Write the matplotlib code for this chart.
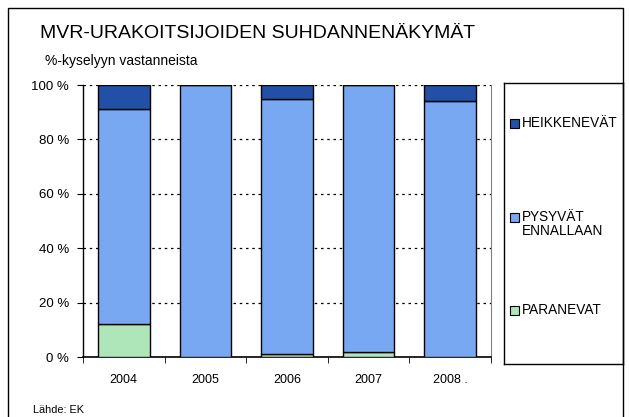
import matplotlib
matplotlib.use("Agg")
import matplotlib.pyplot as plt
from matplotlib.patches import Rectangle
import numpy as np

plt.rcParams['font.family'] = ['Liberation Sans', 'DejaVu Sans']

years = ["2004", "2005", "2006", "2007", "2008 ."]
paranevat = [12, 0, 1, 2, 0]
pysyvat = [79, 100, 94, 98, 94]
heikkenevat = [9, 0, 5, 0, 6]
series_labels = ["HEIKKENEVÄT", "PYSYVÄT\nENNALLAAN", "PARANEVAT"]
yticks = [0, 20, 40, 60, 80, 100]
ytick_labels = ["0 %", "20 %", "40 %", "60 %", "80 %", "100 %"]

c_dark = "#2150A6"
c_light = "#78A8F2"
c_green = "#AEE6BA"

W, H = 629, 417
fig = plt.figure(figsize=(W/100, H/100), dpi=100)

# outer frame
fig.add_artist(Rectangle((8/W, -0.01), (623-8)/W, (H-8)/H + 0.01, transform=fig.transFigure,
                         fill=False, edgecolor="black", linewidth=1))

ax = fig.add_axes([83/W, 1-357/H, (491-83)/W, (357-85)/H])
x = np.arange(len(years))
bw = 0.63
ax.bar(x, paranevat, bw, color=c_green, edgecolor="black", linewidth=1, zorder=3)
ax.bar(x, pysyvat, bw, bottom=paranevat, color=c_light, edgecolor="black", linewidth=1, zorder=3)
bottom2 = np.array(paranevat) + np.array(pysyvat)
ax.bar(x, heikkenevat, bw, bottom=bottom2, color=c_dark, edgecolor="black", linewidth=1, zorder=3)

ax.set_xlim(-0.5, len(years) - 0.5)
ax.set_ylim(0, 100)
ax.set_yticks(yticks)
ax.set_yticklabels(ytick_labels, fontsize=9.5)
ax.set_xticks(x)
ax.set_xticklabels(years, fontsize=9)
ax.set_xticks(np.arange(len(years) + 1) - 0.5, minor=True)
ax.tick_params(axis='x', which='major', length=0, pad=12)
ax.tick_params(axis='x', which='minor', length=4, direction='out', color='black')
ax.tick_params(axis='y', length=4, direction='out', pad=6)
for yv in yticks[1:]:
    ax.axhline(yv, color="black", linestyle=(0, (2, 3)), linewidth=0.9, zorder=1)
ax.spines['top'].set_visible(False)
ax.spines['right'].set_color("#808080")
ax.spines['left'].set_linewidth(1)
ax.spines['bottom'].set_linewidth(1.2)

# legend box
lax = fig.add_axes([504/W, 1-364/H, (623-504)/W, (364-83)/H])
lax.set_xlim(504, 623)
lax.set_ylim(364, 83)
lax.set_xticks([]); lax.set_yticks([])
for s in lax.spines.values():
    s.set_linewidth(1)
leg_y = [123, 217, 310]
leg_c = [c_dark, c_light, c_green]
for yy, cc, lab in zip(leg_y, leg_c, series_labels):
    lax.add_patch(Rectangle((510, yy - 4.5), 9, 9, facecolor=cc, edgecolor="black", linewidth=0.8))
    lax.text(522, yy - 7.5, lab, fontsize=9.8, va='top', ha='left', linespacing=1.0)

fig.text(40/W, 1-34/H, "MVR-URAKOITSIJOIDEN SUHDANNENÄKYMÄT", fontsize=14, va='center', ha='left')
fig.text(45/W, 1-61/H, "%-kyselyyn vastanneista", fontsize=10, va='center', ha='left')
fig.text(33/W, 1-410/H, "Lähde: EK", fontsize=7.8, va='center', ha='left')

fig.savefig("out.png", dpi=100)
